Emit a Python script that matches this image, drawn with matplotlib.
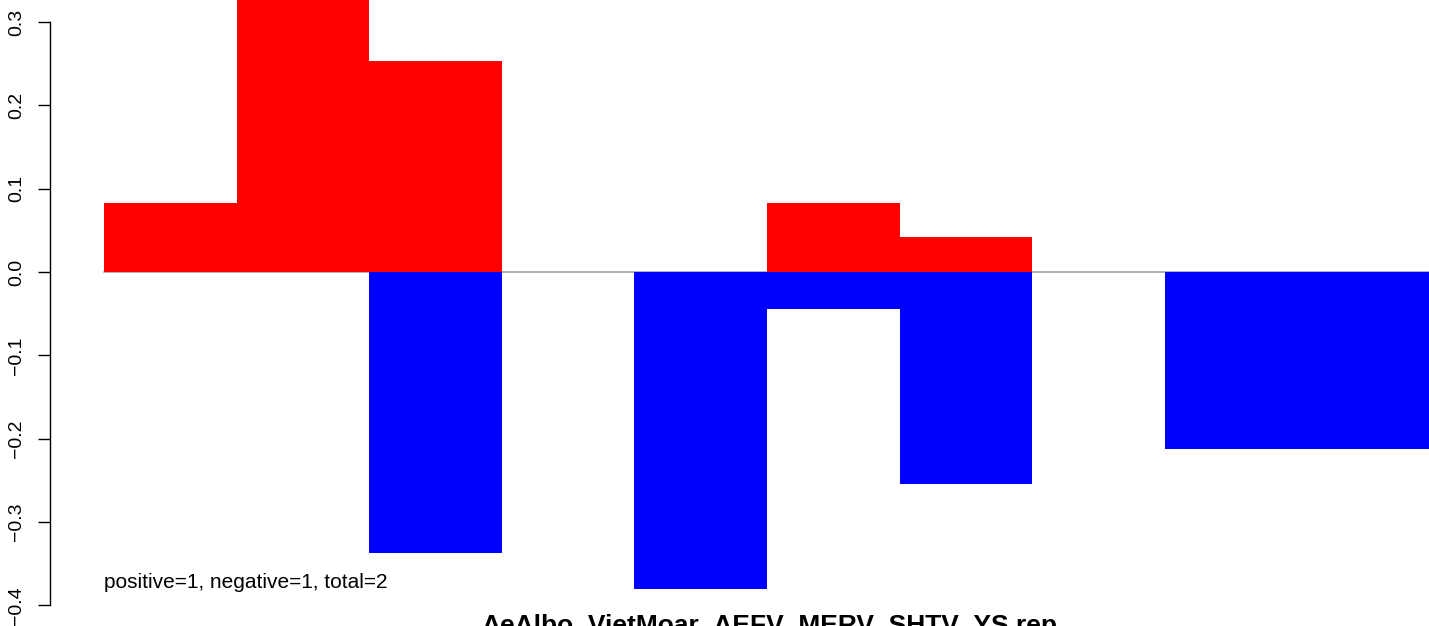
import matplotlib
matplotlib.use("Agg")
import matplotlib.pyplot as plt

plt.rcParams['font.family'] = ['Liberation Sans', 'DejaVu Sans']

# data
positions = list(range(10))
pos_values = [0.083, 0.35, 0.253, 0.0, 0.0, 0.083, 0.042, 0.0, 0.0, 0.0]
neg_values = [0.0, 0.0, -0.337, 0.0, -0.381, -0.044, -0.254, 0.0, -0.212, -0.212]
yticks = [-0.4, -0.3, -0.2, -0.1, 0.0, 0.1, 0.2, 0.3]
ytick_labels = ["\u22120.4", "\u22120.3", "\u22120.2", "\u22120.1", "0.0", "0.1", "0.2", "0.3"]
title = "AeAlbo_VietMoar_AEFV_MERV_SHTV_YS.rep"
note = "positive=1, negative=1, total=2"

W, H = 1429, 626
fig = plt.figure(figsize=(W / 100, H / 100), dpi=100)
ax_left, ax_right = 50, 1429
ax_top, ax_bot = 0, 615
ax = fig.add_axes([ax_left / W, 1 - ax_bot / H, (ax_right - ax_left) / W, (ax_bot - ax_top) / H])

# pixel mapping: y=0 at 272px, 0.1 per 83.3px
ppu = 833.0
ax.set_ylim(-(ax_bot - 272) / ppu, (272 - ax_top) / ppu)
bw = 132.6
ax.set_xlim(-(104 - ax_left) / bw, (ax_right - 104) / bw)

ax.plot([0, 10], [0, 0], color='#999999', lw=1.1, zorder=1)
ax.bar([p + 0.5 for p in positions], pos_values, width=1.0, color='#FF0000', linewidth=0, zorder=2)
ax.bar([p + 0.5 for p in positions], neg_values, width=1.0, color='#0000FF', linewidth=0, zorder=2)

for s in ['top', 'right', 'bottom']:
    ax.spines[s].set_visible(False)
ax.spines['left'].set_bounds(-0.4, 0.3)
ax.spines['left'].set_linewidth(1.0)
ax.set_xticks([])
ax.set_yticks(yticks)
ax.set_yticklabels(ytick_labels, rotation=90, va='center', fontsize=14)
ax.tick_params(axis='y', length=9, width=1.0, pad=9)

ax.text(0, -0.379, note, fontsize=15, ha='left', va='baseline')
fig.text(769 / W, 1 - 633 / H, title, fontsize=19, fontweight='bold', ha='center', va='baseline')

fig.savefig('out.png', dpi=100)
